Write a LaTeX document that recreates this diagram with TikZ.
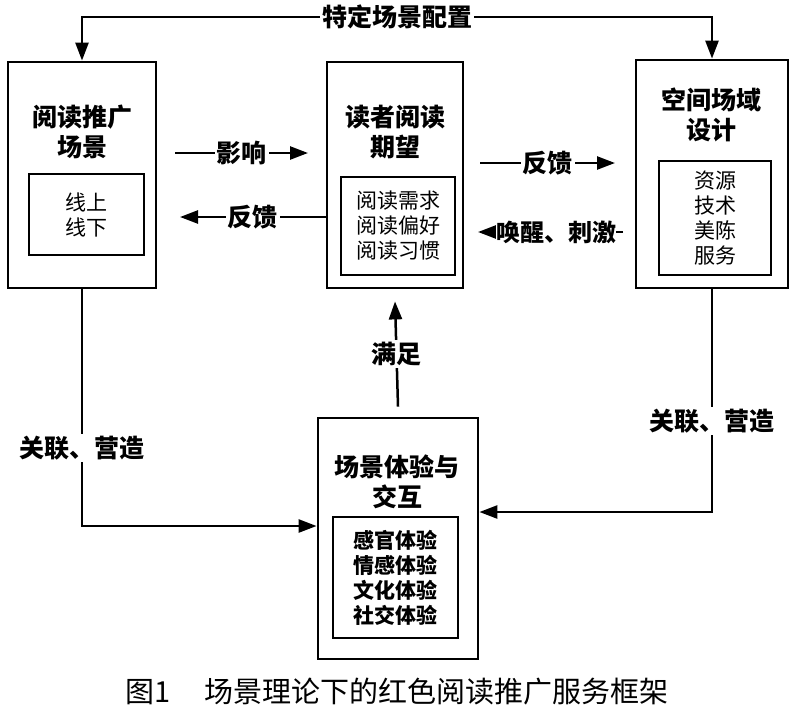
\documentclass[tikz,border=0pt]{standalone}
\usepackage{fontspec}
\newfontfamily\cjk{Noto Sans CJK SC}
\usetikzlibrary{arrows.meta}
\tikzset{
    boite/.style 2 args={draw, line width=2.8pt, minimum width=#1, minimum height=#2},
    liste/.style 2 args={draw, line width=2.5pt, minimum width=#1, minimum height=#2, align=center, font=\cjk\fontsize{21}{25}\selectfont},
    titre/.style={align=center, font=\cjk\bfseries\fontsize{25}{30}\selectfont},
    etiq/.style={fill=white, inner sep=2pt, font=\cjk\bfseries\fontsize{25}{30}\selectfont},
    fleche/.style={line width=2.5pt, -{Triangle[length=18pt,width=13pt]}}
}
\begin{document}
\begin{tikzpicture}[x=1pt,y=-1pt]
    \useasboundingbox (0,0) rectangle (800,712);
    \node[boite={148pt}{226pt}] (L) at (82,175) {};
    \node[boite={136pt}{226pt}] (M) at (395,175) {};
    \node[boite={152pt}{228pt}] (R) at (712,174) {};
    \node[boite={160pt}{241pt}] (E) at (398,538.5) {};
    \node[titre] (Lt) at (82,132) {阅读推广\\场景};
    \node[titre] (Mt) at (395,132) {读者阅读\\期望};
    \node[titre] (Rt) at (711,115) {空间场域\\设计};
    \node[titre] (Et) at (397,482) {场景体验与\\交互};
    \node[liste={115pt}{81pt}] (Li) at (86.5,214.5) {线上\\线下};
    \node[liste={114pt}{98pt}] (Mi) at (398,226) {阅读需求\\阅读偏好\\阅读习惯};
    \node[liste={112pt}{114pt}] (Ri) at (715,218) {资源\\技术\\美陈\\服务};
    \node[liste={125pt}{121pt},font=\cjk\bfseries\fontsize{21}{25}\selectfont] (Ei) at (395.5,577.5) {感官体验\\情感体验\\文化体验\\社交体验};
    \coordinate (T1) at (82,17);
    \coordinate (T2) at (712,17);
    \coordinate (A1) at (175,153);
    \coordinate (A2) at (308,153);
    \coordinate (A3) at (180,217);
    \coordinate (B1) at (480,163);
    \coordinate (B2) at (615,163);
    \coordinate (B3) at (478,232);
    \coordinate (B4) at (623,232);
    \coordinate (C1) at (82,526);
    \coordinate (C2) at (712,512);
    \draw[fleche, {Triangle[length=18pt,width=13pt]}-{Triangle[length=18pt,width=13pt]}] (L.north) -- (T1) -- node[etiq] (cfg) {特定场景配置} (T2) -- (R.north);
    \draw[fleche] (A1) -- node[etiq] (inf) {影响} (A2);
    \draw[fleche] ([yshift=-42pt]M.west) -- node[etiq] (fb1) {反馈} (A3);
    \draw[fleche] (B1) -- node[etiq] (fb2) {反馈} (B2);
    \draw[fleche] (B4) -- node[etiq,pos=0.46,inner sep=0pt,font=\cjk\bfseries\fontsize{24}{30}\selectfont] (stim) {唤醒、刺激} (B3);
    \draw[fleche] ([yshift=10pt]E.north) -- node[etiq] (sat) {满足} ([yshift=-12pt]M.south);
    \draw[fleche] (L.south) -- node[etiq,pos=0.67] (rel1) {关联、营造} (C1) -- ([yshift=12.5pt]E.west);
    \draw[fleche] (R.south) -- node[etiq,pos=0.59] (rel2) {关联、营造} (C2) -- ([yshift=26.5pt]E.east);
    \node[font=\cjk\fontsize{29}{32}\selectfont] (cap) at (397,692) {图1\hspace{33pt}场景理论下的红色阅读推广服务框架};
\end{tikzpicture}
\end{document}
